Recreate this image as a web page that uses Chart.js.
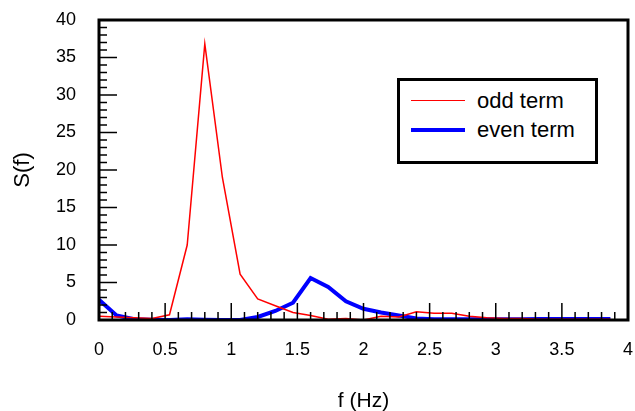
<!DOCTYPE html>
<html lang="en">
<head>
    <meta charset="UTF-8">
    <title>S(f) spectrum</title>
    <style>
        body {
            margin: 0;
            padding: 0;
            background: white;
            font-family: "Liberation Sans", Arial, sans-serif;
        }

        .chart-wrap {
            position: relative;
            width: 635px;
            height: 411px;
        }

        .legend-box {
            position: absolute;
            left: 397px;
            top: 78px;
            width: 195px;
            height: 80px;
            border: 3px solid black;
            background: white;
        }

        .legend-row {
            position: absolute;
            left: 0;
            height: 26px;
            font-size: 22px;
            line-height: 26px;
            color: black;
        }

        .legend-row span.swatch {
            position: absolute;
            left: 11px;
            width: 54px;
        }

        .legend-row span.label {
            position: absolute;
            left: 77px;
            white-space: nowrap;
        }
    </style>
</head>
<body>
    <div class="chart-wrap">
        <canvas id="spectrumChart"></canvas>
        <div class="legend-box">
            <div class="legend-row" style="top: 7px;">
                <span class="swatch" style="top: 12px; border-top: 1.5px solid #ff0000;"></span>
                <span class="label">odd term</span>
            </div>
            <div class="legend-row" style="top: 36px;">
                <span class="swatch" style="top: 11px; border-top: 4px solid #0000ff;"></span>
                <span class="label">even term</span>
            </div>
        </div>
    </div>

    <script src="https://cdn.jsdelivr.net/npm/chart.js"></script>
    <script>
        // frequency bins (Hz), step 2/15
        const freqs = [0, 0.133, 0.267, 0.4, 0.533, 0.667, 0.8, 0.933, 1.067, 1.2,
                       1.333, 1.467, 1.6, 1.733, 1.867, 2.0, 2.133, 2.267, 2.4, 2.533,
                       2.667, 2.8, 2.933, 3.067, 3.2, 3.333, 3.467, 3.6, 3.733, 3.867];

        const oddTerm = [0.5, 0.4, 0.3, 0.2, 0.7, 10, 36.8, 19, 6.1, 2.8,
                         1.9, 1.0, 0.6, 0.1, 0.2, 0.0, 0.5, 0.4, 1.1, 0.9,
                         0.9, 0.5, 0.3, 0.2, 0.2, 0.1, 0.1, 0.1, 0.1, 0.1];

        const evenTerm = [2.7, 0.6, 0.1, 0.05, 0.0, 0.1, 0.05, 0.0, 0.0, 0.4,
                          1.2, 2.3, 5.6, 4.4, 2.5, 1.5, 1.0, 0.6, 0.2, 0.1,
                          0.1, 0.1, 0.1, 0.1, 0.1, 0.15, 0.15, 0.15, 0.15, 0.15];

        const xTicks = [0, 0.5, 1, 1.5, 2, 2.5, 3, 3.5, 4];
        const yTicks = [0, 5, 10, 15, 20, 25, 30, 35, 40];

        function toPoints(vals) {
            return freqs.map((f, i) => ({ x: f, y: vals[i] }));
        }

        // keep the plot box fixed: no extra room for overhanging labels
        function fixBox(s, size) {
            if (s.isHorizontal()) s.height = size; else s.width = size;
            s.paddingLeft = 0;
            s.paddingRight = 0;
            s.paddingTop = 0;
            s.paddingBottom = 0;
        }

        // frame and inward tick marks, like the original plot
        const frameTicks = {
            id: 'frameTicks',
            afterDatasetsDraw(chart) {
                const ctx = chart.ctx;
                const area = chart.chartArea;
                const xs = chart.scales.x;
                const ys = chart.scales.y;
                ctx.save();
                ctx.strokeStyle = 'black';
                ctx.lineWidth = 1.5;
                ctx.beginPath();
                // x ticks every 0.1, long ones every 0.5
                for (let i = 1; i < 40; i++) {
                    const px = xs.getPixelForValue(i / 10);
                    const len = (i % 5 === 0) ? 17 : 8;
                    ctx.moveTo(px, area.bottom);
                    ctx.lineTo(px, area.bottom - len);
                }
                // y ticks every 1, long ones every 5
                for (let j = 1; j < 40; j++) {
                    const py = ys.getPixelForValue(j);
                    const len = (j % 5 === 0) ? 18 : 8;
                    ctx.moveTo(area.left, py);
                    ctx.lineTo(area.left + len, py);
                }
                ctx.stroke();

                ctx.lineWidth = 3;
                ctx.strokeRect(area.left, area.top, area.right - area.left, area.bottom - area.top);
                ctx.restore();
            }
        };

        const ctx = document.getElementById('spectrumChart').getContext('2d');
        const spectrumChart = new Chart(ctx, {
            type: 'line',
            data: {
                datasets: [
                    {
                        label: 'odd term',
                        data: toPoints(oddTerm),
                        borderColor: '#ff0000',
                        borderWidth: 1.5,
                        pointRadius: 0,
                        tension: 0,
                        fill: false
                    },
                    {
                        label: 'even term',
                        data: toPoints(evenTerm),
                        borderColor: '#0000ff',
                        borderWidth: 4,
                        pointRadius: 0,
                        tension: 0,
                        fill: false
                    }
                ]
            },
            options: {
                responsive: true,
                maintainAspectRatio: false,
                animation: false,
                layout: {
                    padding: { top: 20, right: 7, left: 0, bottom: 0 }
                },
                plugins: {
                    legend: { display: false },
                    tooltip: { enabled: false }
                },
                scales: {
                    x: {
                        type: 'linear',
                        min: 0,
                        max: 4,
                        afterBuildTicks: s => { s.ticks = xTicks.map(v => ({ value: v })); },
                        afterFit: s => fixBox(s, 91),
                        grid: { display: false, drawTicks: false },
                        border: { display: false },
                        ticks: {
                            color: 'black',
                            padding: 19,
                            maxRotation: 0,
                            callback: v => String(v),
                            font: { family: 'Liberation Sans', size: 18 }
                        },
                        title: {
                            display: true,
                            text: 'f (Hz)',
                            color: 'black',
                            padding: { top: 0, bottom: -3 },
                            font: { family: 'Liberation Sans', size: 21 }
                        }
                    },
                    y: {
                        min: 0,
                        max: 40,
                        afterBuildTicks: s => { s.ticks = yTicks.map(v => ({ value: v })); },
                        afterFit: s => fixBox(s, 99),
                        grid: { display: false, drawTicks: false },
                        border: { display: false },
                        ticks: {
                            color: 'black',
                            padding: 23,
                            callback: v => String(v),
                            font: { family: 'Liberation Sans', size: 18 }
                        },
                        title: {
                            display: true,
                            text: 'S(f)',
                            color: 'black',
                            padding: { top: 10, bottom: 0 },
                            font: { family: 'Liberation Sans', size: 22 }
                        }
                    }
                }
            },
            plugins: [frameTicks]
        });
    </script>
</body>
</html>
